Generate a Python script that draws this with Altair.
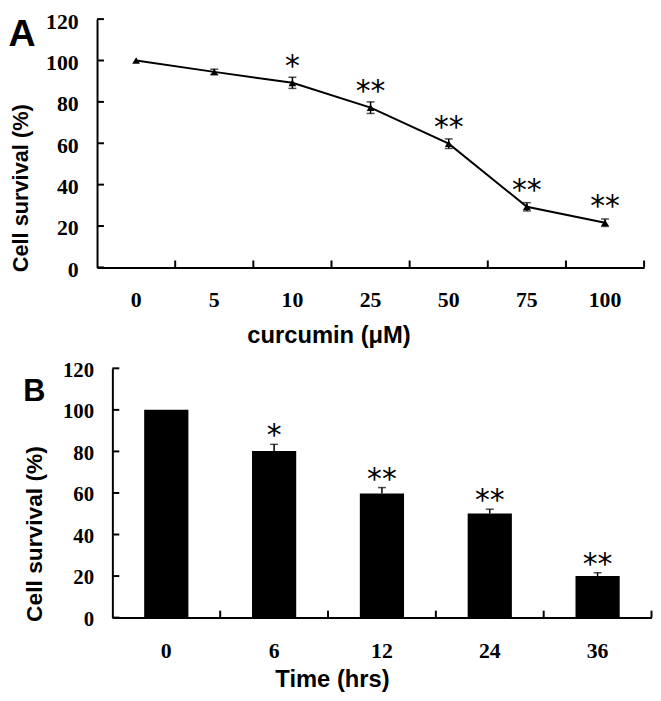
import altair as alt
import pandas as pd

# ---------------- data ----------------
conc = ["0", "5", "10", "25", "50", "75", "100"]
surv_a = [100, 94.5, 89.2, 77.2, 59.8, 29.3, 21.6]
err_a = [0, 1.3, 2.7, 2.8, 2.3, 2.0, 1.8]
sig_a = ["", "", "*", "**", "**", "**", "**"]

times = ["0", "6", "12", "24", "36"]
surv_b = [100, 80.2, 59.8, 50.1, 20.0]
err_b = [0, 3.2, 2.8, 2.1, 1.6]
sig_b = ["", "*", "**", "**", "**"]

y_ticks = [0, 20, 40, 60, 80, 100, 120]

SERIF = "Liberation Serif"
SANS = "Liberation Sans"

dfa = pd.DataFrame({"conc": conc, "surv": surv_a, "err": err_a, "sig": sig_a})
dfb = pd.DataFrame({"time": times, "surv": surv_b, "err": err_b, "sig": sig_b})
dft = pd.DataFrame({"v": y_ticks})

WA, HA = 553, 251
OFFB = 15.5            # panel B axis sits this far right of panel A's axis
WB, HB = 545, 252


def y_axis(fs, tx, ty, tfs, offset=0):
    return alt.Axis(values=y_ticks, ticks=False, tickSize=0, grid=False,
                    domainColor="black", domainWidth=2, offset=offset,
                    labelFont=SERIF, labelFontWeight="bold", labelFontSize=fs,
                    labelColor="black", labelPadding=19, labelOffset=2,
                    title="Cell survival (%)", titleFont=SANS, titleFontWeight="bold",
                    titleFontSize=tfs, titleColor="black", titleX=tx, titleY=ty,
                    titleAlign="center", titleBaseline="middle", titleAngle=270)


def x_axis(title, fs, tx, ty, lp):
    return alt.Axis(ticks=False, tickSize=0, grid=False, labelAngle=0,
                    domainColor="black", domainWidth=2,
                    labelFont=SERIF, labelFontWeight="bold", labelFontSize=fs,
                    labelColor="black", labelPadding=lp, labelBaseline="middle",
                    title=title, titleFont=SANS, titleFontWeight="bold",
                    titleFontSize=24, titleColor="black", titleX=tx, titleY=ty,
                    titleAlign="center", titleBaseline="middle")


yscale = alt.Scale(domain=[0, 120], nice=False, zero=True)

# ---------------- panel A ----------------
xsa = alt.Scale(type="band", paddingInner=0, paddingOuter=0)
axAx = x_axis("curcumin (\u03bcM)", 22, 234, 69, 33)
axAy = y_axis(22, -77, 170.5, 22)


def xa(bp=0.5):
    return alt.X("conc:N", sort=conc, scale=xsa, bandPosition=bp, axis=axAx)


def ya(field):
    return alt.Y(field, scale=yscale, axis=axAy)


baseA = alt.Chart(dfa)
lineA = baseA.mark_line(color="black", strokeWidth=2).encode(x=xa(), y=ya("surv:Q"))
ptsA = baseA.mark_point(shape="triangle-up", filled=True, size=60, color="black",
                        opacity=1).encode(x=xa(), y=ya("surv:Q"))
errA = baseA.transform_filter("datum.err > 0").transform_calculate(
    lo="datum.surv - datum.err", hi="datum.surv + datum.err")
ruleA = errA.mark_rule(color="black", strokeWidth=1.5).encode(
    x=xa(), y=ya("lo:Q"), y2="hi:Q")
capHiA = errA.mark_tick(color="black", thickness=1.5, size=8).encode(x=xa(), y=ya("hi:Q"))
capLoA = errA.mark_tick(color="black", thickness=1.5, size=8).encode(x=xa(), y=ya("lo:Q"))
sigA = baseA.mark_text(font="DejaVu Sans", fontSize=30, baseline="alphabetic", dy=-7,
                       color="black").encode(x=xa(), y=ya("surv:Q"), text="sig:N")
xtA = baseA.mark_rule(color="black", strokeWidth=2).encode(
    x=xa(1.0), y=alt.value(HA), y2=alt.value(HA - 7))
ytA = alt.Chart(dft).mark_rule(color="black", strokeWidth=2).encode(
    y=ya("v:Q"), x=alt.value(0), x2=alt.value(7))
labA = alt.Chart(pd.DataFrame({"t": ["A"]})).mark_text(
    font=SANS, fontWeight="bold", fontSize=38, align="left", baseline="alphabetic",
    color="black").encode(text="t:N", x=alt.value(-89.5), y=alt.value(27))

panelA = alt.layer(lineA, ruleA, capHiA, capLoA, ptsA, sigA, xtA, ytA, labA).properties(
    width=WA, height=HA)

# ---------------- panel B ----------------
xsb = alt.Scale(type="band", paddingInner=0, paddingOuter=0, range=[OFFB, OFFB + WB])
axBx = x_axis("Time (hrs)", 22, OFFB + 222, 63, 33)
axBy = y_axis(21, -79, 167, 23, offset=-OFFB)


def xb(bp=0.5):
    return alt.X("time:N", sort=times, scale=xsb, bandPosition=bp, axis=axBx)


def yb(field):
    return alt.Y(field, scale=yscale, axis=axBy)


baseB = alt.Chart(dfb)
barsB = baseB.mark_bar(color="black", width=alt.RelativeBandSize(0.41)).encode(
    x=alt.X("time:N", sort=times, scale=xsb, axis=axBx), y=yb("surv:Q"))
errB = baseB.transform_filter("datum.err > 0").transform_calculate(hi="datum.surv + datum.err")
ruleB = errB.mark_rule(color="black", strokeWidth=1.5).encode(
    x=xb(), y=yb("surv:Q"), y2="hi:Q")
capB = errB.mark_tick(color="black", thickness=1.5, size=8).encode(x=xb(), y=yb("hi:Q"))
sigB = errB.mark_text(font="DejaVu Sans", fontSize=30, baseline="alphabetic", dy=1,
                      color="black").encode(x=xb(), y=yb("hi:Q"), text="sig:N")
xtB = baseB.mark_rule(color="black", strokeWidth=2).encode(
    x=xb(1.0), y=alt.value(HB), y2=alt.value(HB - 7))
ytB = alt.Chart(dft).mark_rule(color="black", strokeWidth=2).encode(
    y=yb("v:Q"), x=alt.value(OFFB), x2=alt.value(OFFB + 7))
labB = alt.Chart(pd.DataFrame({"t": ["B"]})).mark_text(
    font=SANS, fontWeight="bold", fontSize=31, align="left", baseline="alphabetic",
    color="black").encode(text="t:N", x=alt.value(OFFB - 90), y=alt.value(33.5))

panelB = alt.layer(barsB, ruleB, capB, sigB, xtB, ytB, labB).properties(
    width=WB + OFFB, height=HB)

chart = alt.vconcat(panelA, panelB, spacing=12,
                    padding={"top": -1.5, "left": 0, "right": 0, "bottom": 0},
                    background="white").configure_view(stroke=None)

chart.save("out.html", embed_options={"renderer": "svg", "actions": False})
